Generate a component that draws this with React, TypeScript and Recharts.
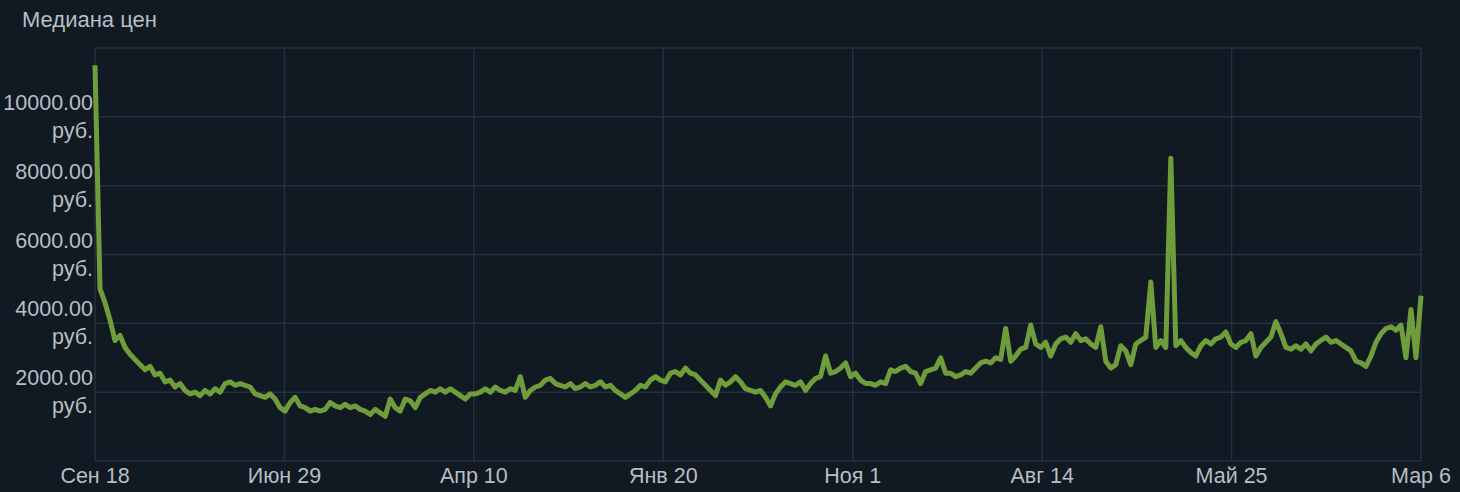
import React from "react"
import { LineChart, Line, XAxis, YAxis, CartesianGrid } from "recharts"

// median price, one reading roughly every 7.5 days (Сен 18 -> Мар 6)
const prices = [
  11500, 5000, 4600, 4100, 3500, 3650, 3300, 3100, 2950, 2800,
  2650, 2750, 2500, 2550, 2300, 2350, 2150, 2250, 2050, 1950,
  2000, 1900, 2050, 1950, 2100, 2000, 2250, 2300, 2200, 2250,
  2200, 2150, 1950, 1900, 1850, 1950, 1800, 1550, 1450, 1700,
  1850, 1600, 1550, 1450, 1500, 1450, 1500, 1700, 1600, 1550,
  1650, 1550, 1600, 1500, 1450, 1350, 1500, 1400, 1300, 1800,
  1550, 1450, 1800, 1750, 1550, 1850, 1950, 2050, 2000, 2100,
  2000, 2100, 2000, 1900, 1800, 1950, 1950, 2000, 2100, 2000,
  2150, 2050, 2000, 2100, 2050, 2450, 1850, 2050, 2150, 2200,
  2350, 2400, 2250, 2200, 2150, 2250, 2100, 2150, 2250, 2150,
  2200, 2300, 2150, 2200, 2050, 1950, 1850, 1950, 2050, 2200,
  2150, 2350, 2450, 2350, 2300, 2550, 2600, 2500, 2700, 2550,
  2500, 2350, 2200, 2050, 1900, 2350, 2200, 2300, 2450, 2300,
  2100, 2050, 2000, 2050, 1850, 1600, 1950, 2150, 2300, 2250,
  2200, 2300, 2050, 2250, 2400, 2450, 3050, 2550, 2600, 2700,
  2850, 2450, 2550, 2350, 2250, 2250, 2200, 2300, 2250, 2650,
  2600, 2700, 2750, 2600, 2550, 2250, 2600, 2650, 2700, 3000,
  2550, 2550, 2450, 2500, 2600, 2550, 2700, 2850, 2900, 2850,
  3000, 2950, 3850, 2900, 3050, 3250, 3300, 3950, 3400, 3300,
  3450, 3050, 3400, 3550, 3600, 3450, 3700, 3500, 3550, 3400,
  3300, 3900, 2900, 2700, 2800, 3350, 3200, 2800, 3400, 3500,
  3600, 5200, 3300, 3500, 3300, 8800, 3350, 3500, 3300, 3150,
  3050, 3350, 3500, 3400, 3550, 3600, 3750, 3400, 3300, 3450,
  3500, 3700, 3050, 3300, 3450, 3600, 4050, 3700, 3300, 3250,
  3350, 3250, 3400, 3200, 3400, 3500, 3600, 3450, 3500, 3400,
  3300, 3200, 2900, 2850, 2750, 3050, 3450, 3700, 3850, 3900,
  3800, 3950, 3000, 4400, 3000, 4800,
]

const dateLabels = ["Сен 18", "Июн 29", "Апр 10", "Янв 20", "Ноя 1", "Авг 14", "Май 25", "Мар 6"]
const priceTicks = [0, 2000, 4000, 6000, 8000, 10000, 12000]

const data = prices.map((p, i) => ({ i, price: p }))
const lastIdx = prices.length - 1
const xTicks = dateLabels.map((_, k) => (k * lastIdx) / (dateLabels.length - 1))

const textColor = "#b8bec4"
const font = "'Liberation Sans', Arial, sans-serif"

const YTick = (props: any) => {
  const { x, y, payload } = props
  if (payload.value === 0 || payload.value === 12000) return null
  return (
    <text x={x} y={y} textAnchor="end" fill={textColor} fontSize={21.5} fontFamily={font}>
      <tspan x={x} dy={-7}>{payload.value.toFixed(2)}</tspan>
      <tspan x={x} dy={28}>руб.</tspan>
    </text>
  )
}

const XTick = (props: any) => {
  const { x, y, index } = props
  return (
    <text x={x} y={y} dy={14} textAnchor="middle" fill={textColor} fontSize={21.5} fontFamily={font}>
      {dateLabels[index]}
    </text>
  )
}

export default function App() {
  return (
    <div style={{ position: "fixed", left: 0, top: 0, width: 1460, height: 492, background: "#111922" }}>
      <div
        style={{
          position: "absolute",
          left: 22,
          top: 7,
          color: textColor,
          fontSize: 22,
          fontFamily: font,
        }}
      >
        Медиана цен
      </div>
      <LineChart width={1460} height={492} data={data} margin={{ top: 48, right: 39, left: 0, bottom: 0 }}>
        <CartesianGrid stroke="#243040" strokeWidth={1.5} />
        <XAxis
          dataKey="i"
          type="number"
          domain={[0, lastIdx]}
          ticks={xTicks}
          tick={<XTick />}
          axisLine={false}
          tickLine={false}
          height={31}
          interval={0}
        />
        <YAxis
          domain={[0, 12000]}
          ticks={priceTicks}
          tick={<YTick />}
          axisLine={false}
          tickLine={false}
          width={95}
          tickSize={0}
          tickMargin={2}
          interval={0}
        />
        <Line
          type="linear"
          dataKey="price"
          stroke="#6f9d3c"
          strokeWidth={5}
          dot={false}
          isAnimationActive={false}
          strokeLinejoin="round"
        />
      </LineChart>
    </div>
  )
}
